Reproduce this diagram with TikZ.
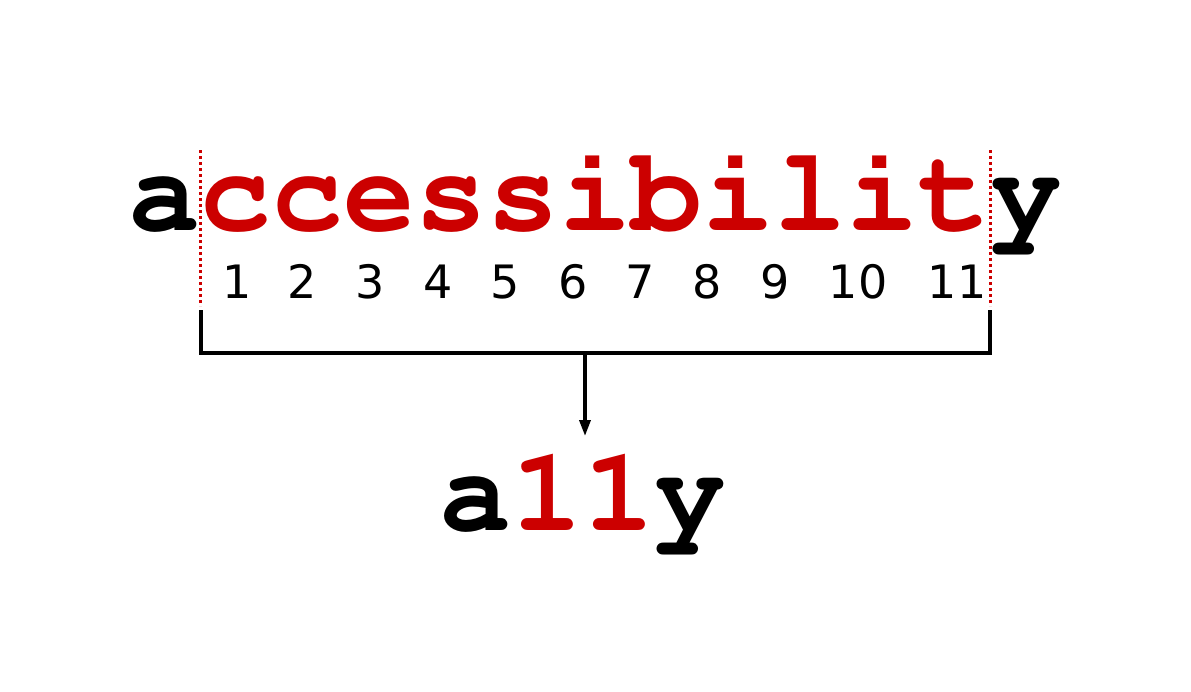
\documentclass[tikz,border=0pt]{standalone}
\usepackage[T1]{fontenc}
\usepackage{fontspec}
\newfontfamily\numfont{DejaVu Sans}
\newcommand\courierbold{\usefont{T1}{pcr}{b}{n}}
\usetikzlibrary{arrows.meta}
\definecolor{wred}{HTML}{CC0000}
\tikzset{
  word/.style={inner sep=0pt, anchor=base, font=\fontsize{119.7}{120}\selectfont\courierbold\fontsize{119.7}{120}\selectfont},
  num/.style={inner sep=0pt, anchor=base, font=\fontsize{46}{48}\selectfont\numfont},
  sep/.style={wred, line width=3pt, dash pattern=on 3pt off 3pt},
  bracket/.style={black, line width=3.4pt},
  arr/.style={black, line width=3.4pt, -{Triangle[length=16pt,width=11pt]}}
}
\begin{document}
\begin{tikzpicture}[x=1pt,y=-1pt]
\useasboundingbox (0,0) rectangle (1191,691);
\node[word] (top) at (595,230) {a\textcolor{wred}{ccessibilit}y};
\foreach \i/\x in {1/237,2/302,3/370,4/438,5/505,6/573,7/640,8/707,9/775,10/858,11/957} {
  \node[num] (n\i) at (\x,298) {\i};
}
\coordinate (dl1) at (200.5,150);
\coordinate (dl2) at (200.5,306);
\coordinate (dr1) at (990,150);
\coordinate (dr2) at (990,306);
\draw[sep] (dl1) -- (dl2);
\draw[sep] (dr1) -- (dr2);
\coordinate (bl) at (201,310);
\coordinate (br) at (990,310);
\coordinate (m) at (585,353);
\coordinate (tip) at (585,436);
\draw[bracket] (bl) |- (m) -| (br);
\draw[arr] (m) -- (tip);
\node[word] (bot) at (583,530) {a\textcolor{wred}{11}y};
\end{tikzpicture}
\end{document}
